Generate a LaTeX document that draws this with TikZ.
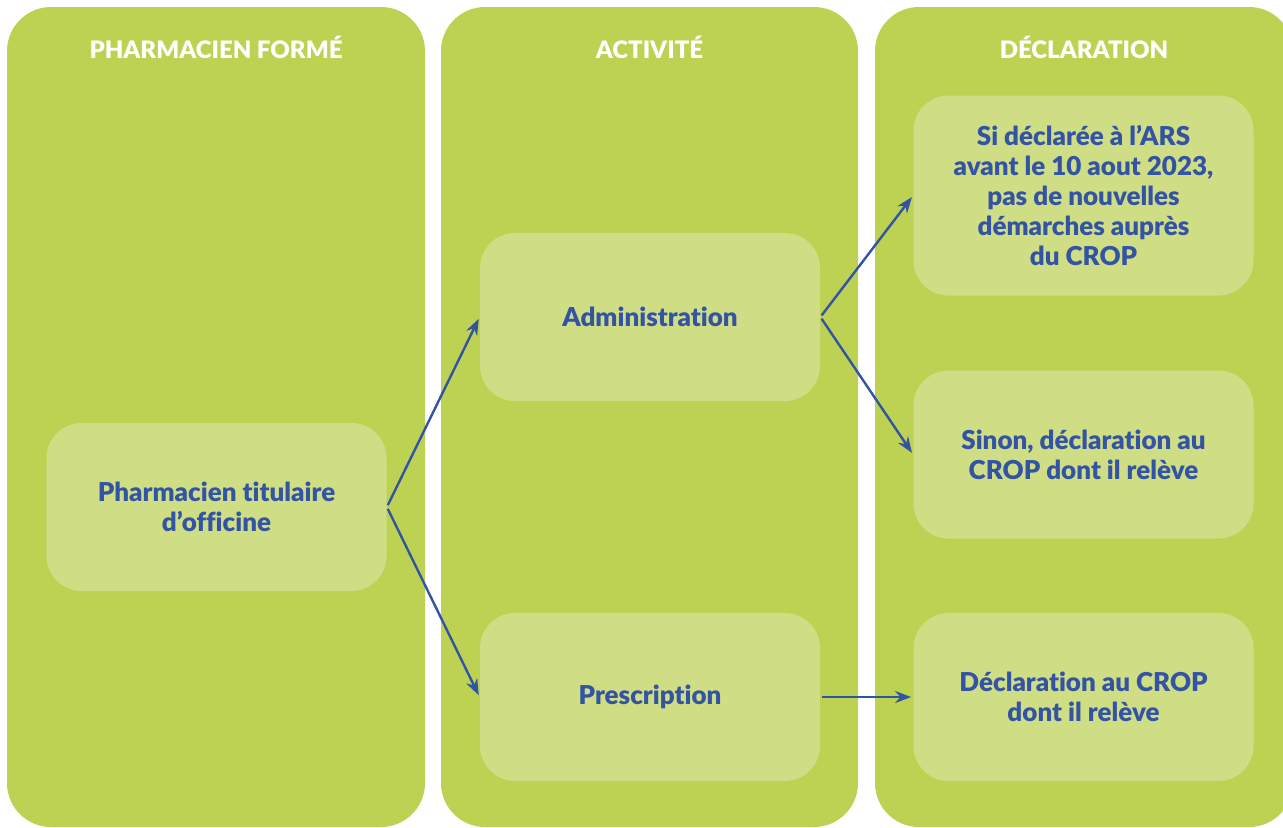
\documentclass[tikz,border=0pt]{standalone}
\usepackage{fontspec}
\setmainfont{Lato}[BoldFont={Lato Black}, Ligatures=NoCommon]
\usetikzlibrary{arrows.meta}

\definecolor{colgreen}{HTML}{BDD253}
\definecolor{boxgreen}{HTML}{CFDD85}
\definecolor{textblue}{HTML}{3353A4}

\tikzset{
  column/.style={fill=colgreen, rounded corners=22pt},
  header/.style={text=white, font=\bfseries\fontsize{12}{14}\selectfont},
  box/.style={fill=boxgreen, rounded corners=17.5pt, minimum width=170pt,
    minimum height=84pt, align=center, text=textblue,
    font=\bfseries\fontsize{13}{15}\selectfont},
}

\begin{document}
\begin{tikzpicture} [x=0.5pt, y=-0.5pt, grow=right,
  level distance=216.75pt,
  level 1/.style={sibling distance=190pt},
  level 2/.style={sibling distance=129.5pt},
  edge from parent/.style={draw=textblue, line width=1.2pt, shorten >=1pt,
    shorten <=1pt, -{Stealth[length=8pt,width=6pt]}},
  parent anchor=east, child anchor=west]
\useasboundingbox (0,0) rectangle (1283,827);
\clip (0,0) rectangle (1283,827);
% the three columns
\fill [column] (7,7) rectangle (425,827);
\fill [column] (441,7) rectangle (858,827);
\fill [column] (875,7) rectangle (1293,827);
\node [header] (h1) at (216,47) {PHARMACIEN FORMÉ};
\node [header] (h2) at (649.5,47) {ACTIVITÉ};
\node [header] (h3) at (1084,47) {DÉCLARATION};
% the tree (y is flipped, so the lower child comes first)
\node [box] (titulaire) at (216.5,507) {Pharmacien titulaire\\d’officine}
  child {node [box] (prescr) {Prescription}
    child {node [box] (decl) {Déclaration au CROP\\dont il relève}
    }
  }
  child {node [box] (admin) {Administration}
    child {node [box, yshift=-4pt] (sinon) {Sinon, déclaration au\\CROP dont il relève}
    }
    child {node [box, yshift=-4pt, minimum height=100pt] (ars)
      {Si déclarée à l’ARS\\avant le 10 aout 2023,\\pas de nouvelles\\démarches auprès\\du CROP}
    }
  };
\end{tikzpicture}
\end{document}
